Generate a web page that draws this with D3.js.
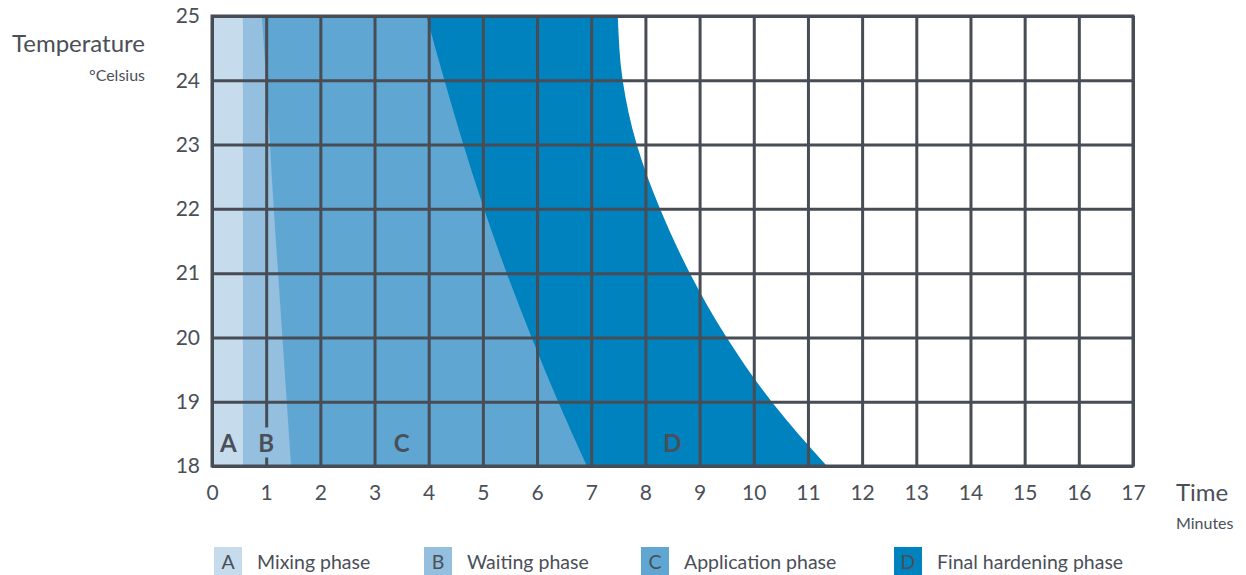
<!DOCTYPE html>
<html><head><meta charset="utf-8">
<script src="https://cdn.jsdelivr.net/npm/d3@7"></script>
<style>
body{margin:0;background:#fff;}
svg{display:block;font-family:Lato,"Open Sans",sans-serif;}
</style></head>
<body>
<svg id="c" width="1246" height="575"></svg>
<script>
// Data
const xTicks = [0,1,2,3,4,5,6,7,8,9,10,11,12,13,14,15,16,17];
const yTicks = [18,19,20,21,22,23,24,25];
const temps = [25,24,23,22,21,20,19,18];
const mixingEnd = [0.57,0.57,0.57,0.57,0.57,0.57,0.57,0.57];
const waitingEnd = [0.92,1.0,1.07,1.14,1.22,1.3,1.38,1.46];
const applicationEnd = [3.96,4.29,4.64,5.02,5.44,5.9,6.39,6.92];
const hardeningEnd = [7.49,7.58,7.84,8.27,8.82,9.5,10.33,11.35];
const phaseKeys = ["A","B","C","D"];
const phaseNames = ["Mixing phase","Waiting phase","Application phase","Final hardening phase"];
const phaseLabelX = [0.3,1.0,3.5,8.5];
const phaseLabelT = 18.35;

const colors = ["#c6dbec","#94bfdf","#5fa6d3","#0082be"];
const ink = "#4a4f58";
const grid = "#474c55";

const svg = d3.select("#c");
const L=212,R=1133,T=16,B=466;
const x = d3.scaleLinear().domain([0,17]).range([L,R]);
const y = d3.scaleLinear().domain([18,25]).range([B,T]);

const ends = [mixingEnd,waitingEnd,applicationEnd,hardeningEnd];
const area = d3.area()
  .y(d=>y(d.t)).x0(x(0)).x1(d=>x(d.v))
  .curve(d3.curveMonotoneY);
// draw back to front
for(let i=3;i>=0;i--){
  const data = temps.map((t,j)=>({t, v:ends[i][j]}));
  svg.append("path").attr("d",area(data)).attr("fill",colors[i]);
}

// grid via axes
const gx = svg.append("g").attr("transform",`translate(0,${B})`)
  .call(d3.axisBottom(x).tickValues(xTicks).tickSize(-(B-T)).tickPadding(19).tickFormat(d3.format("d")));
const gy = svg.append("g").attr("transform",`translate(${L},0)`)
  .call(d3.axisLeft(y).tickValues(yTicks).tickSize(-(R-L)).tickPadding(12).tickFormat(d3.format("d")));
[gx,gy].forEach(g=>{
  g.select(".domain").remove();
  g.selectAll(".tick line").attr("stroke",grid).attr("stroke-width",3);
  g.selectAll(".tick text").attr("fill",ink).attr("font-size",21).attr("font-family","Lato,'Open Sans',sans-serif");
});
svg.append("rect").attr("x",L).attr("y",T).attr("width",R-L).attr("height",B-T)
  .attr("fill","none").attr("stroke",grid).attr("stroke-width",3);

// gap behind B label
svg.append("rect").attr("x",x(1)-4).attr("y",y(phaseLabelT)-16).attr("width",8).attr("height",30).attr("fill",colors[1]);

svg.selectAll("text.ph").data(phaseKeys).join("text").attr("class","ph")
  .attr("x",(d,i)=>x(phaseLabelX[i])).attr("y",y(phaseLabelT)).attr("dy","0.36em")
  .attr("text-anchor","middle").attr("font-size",24).attr("font-weight",700).attr("fill",ink).text(d=>d);

// axis titles
svg.append("text").attr("x",12).attr("y",52).attr("font-size",24).attr("fill",ink).text("Temperature");
svg.append("text").attr("x",145).attr("y",81).attr("text-anchor","end").attr("font-size",16).attr("fill",ink).text("°Celsius");
svg.append("text").attr("x",1176).attr("y",501).attr("font-size",24).attr("fill",ink).text("Time");
svg.append("text").attr("x",1176).attr("y",529).attr("font-size",16).attr("fill",ink).text("Minutes");

// legend
const legX = [214,424,641,894];
const lg = svg.selectAll("g.lg").data(phaseKeys).join("g").attr("class","lg")
  .attr("transform",(d,i)=>`translate(${legX[i]},547)`);
lg.append("rect").attr("width",28).attr("height",30).attr("fill",(d,i)=>colors[i]);
lg.append("text").attr("x",14).attr("y",22).attr("text-anchor","middle").attr("font-size",19.5).attr("fill",ink).text(d=>d);
lg.append("text").attr("x",43).attr("y",22).attr("font-size",19.5).attr("fill",ink).text((d,i)=>phaseNames[i]);
</script>
</body></html>
